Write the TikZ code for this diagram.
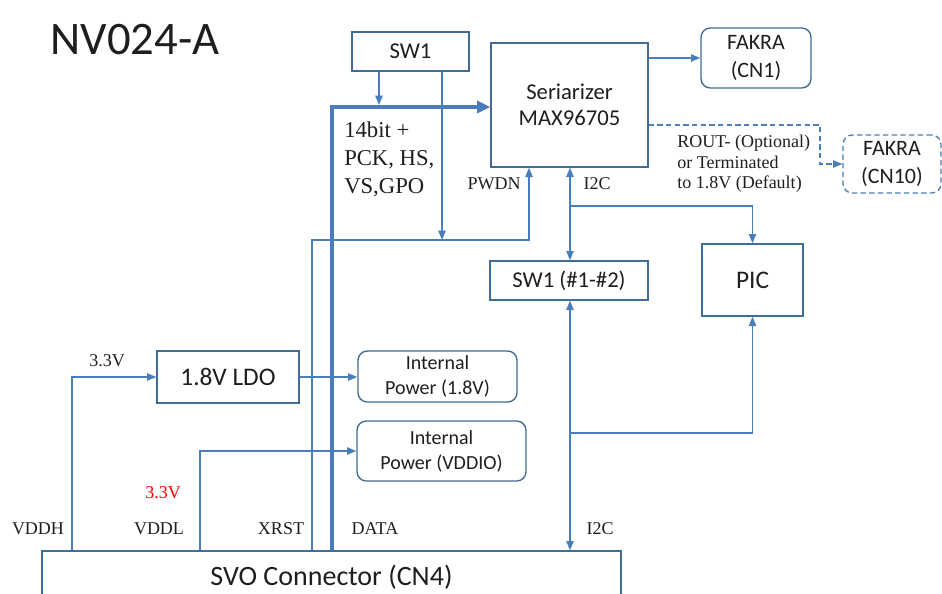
\documentclass[tikz,border=0pt]{standalone}
\usepackage{fontspec}
\setmainfont{Liberation Serif}
\newfontfamily\boxfont{Carlito}
\usetikzlibrary{arrows.meta}
\definecolor{linkblue}{RGB}{74,126,187}
\definecolor{boxblue}{RGB}{65,108,150}
\definecolor{txtgrey}{RGB}{30,30,30}
\begin{document}
\begin{tikzpicture}[x=0.75pt,y=-0.75pt,>={Triangle[length=7pt,width=5.5pt]},
    box/.style={draw=boxblue,line width=1pt,inner sep=0pt,align=center,text=txtgrey},
    rbox/.style={box,rounded corners=7pt},
    link/.style={draw=linkblue,line width=1.1pt},
    bus/.style={draw=linkblue,line width=3.2pt,-{Triangle[length=10pt,width=9pt]}},
    dashlink/.style={link,dash pattern=on 4pt off 2.5pt},
    lbl/.style={font=\fontsize{13.5}{16}\selectfont,inner sep=0pt,text=txtgrey}]
\clip (0,0) rectangle (942,593);
% title
\node[font=\boxfont\fontsize{35}{40}\selectfont,text=txtgrey] (title) at (135,40) {NV024-A};
% blocks
\node[box,font=\boxfont\fontsize{17}{20}\selectfont,minimum width=87.75pt,minimum height=29.25pt] (sw) at (410.5,51.5) {SW1};
\node[box,font=\boxfont\fontsize{17}{19.5}\selectfont,minimum width=117.75pt,minimum height=93pt] (ser) at (569.5,105) {Seriarizer\\MAX96705};
\node[rbox,font=\boxfont\fontsize{16.5}{21}\selectfont,minimum width=82.5pt,minimum height=45pt] (cn1) at (756,58) {FAKRA\\(CN1)};
\node[rbox,draw=linkblue,dash pattern=on 4pt off 2.5pt,font=\boxfont\fontsize{16.5}{21}\selectfont,minimum width=73.5pt,minimum height=43.5pt] (cn10) at (892,164) {FAKRA\\(CN10)};
\node[box,font=\boxfont\fontsize{17}{20}\selectfont,minimum width=118.5pt,minimum height=29.25pt] (swb) at (569,280.5) {SW1 (\#1-\#2)};
\node[box,font=\boxfont\fontsize{19}{22}\selectfont,minimum width=75.75pt,minimum height=54pt] (pic) at (752.5,280) {PIC};
\node[box,font=\boxfont\fontsize{19}{22}\selectfont,minimum width=106.5pt,minimum height=39pt] (ldo) at (228,377) {1.8V LDO};
\node[rbox,font=\boxfont\fontsize{15}{18.75}\selectfont,minimum width=119.25pt,minimum height=38.25pt] (ip18) at (437.5,376.5) {Internal\\Power (1.8V)};
\node[rbox,font=\boxfont\fontsize{15}{18.75}\selectfont,minimum width=126.75pt,minimum height=45pt] (ipio) at (441.5,451) {Internal\\Power (VDDIO)};
\node[box,font=\boxfont\fontsize{21}{24}\selectfont,minimum width=434.25pt,minimum height=39pt] (svo) at (331.5,577) {SVO Connector (CN4)};
% junctions
\coordinate (dcorner) at (332,107);
\coordinate (swtap) at (379,105);
\coordinate (pwjoin) at (442,240);
\coordinate (xrst) at (312,240);
\coordinate (pwdn) at (529,240);
\coordinate (i2ctop) at (570,206);
\coordinate (i2cbot) at (570,433);
\coordinate (vddh) at (72,377);
\coordinate (vddl) at (200,451);
\coordinate (rout) at (820,125);
% connectors
\draw[bus] (svo.north -| dcorner) -- (dcorner) -- (ser.west |- dcorner);
\draw[link,->] (sw.south -| swtap) -- (swtap);
\draw[link,->] (sw.south -| pwjoin) -- (pwjoin);
\draw[link,->] (svo.north -| xrst) -- (xrst) -- (pwdn) -- (ser.south -| pwdn);
\draw[link,<->] (ser.south -| i2ctop) -- (swb.north -| i2ctop);
\draw[link,->] (i2ctop) -| (pic.north);
\draw[link,<->] (swb.south -| i2cbot) -- (svo.north -| i2cbot);
\draw[link,->] (i2cbot) -| (pic.south);
\draw[link,->] (svo.north -| vddh) -- (vddh) -- (ldo.west);
\draw[link,->] (ldo.east) -- (ldo.east -| ip18.west);
\draw[link,->] (svo.north -| vddl) -- (vddl) -- (ipio.west);
\draw[link,->] (ser.east |- cn1.west) -- (cn1.west);
\draw[dashlink,->] (ser.east |- rout) -- (rout) |- (cn10.west);
% labels
\node[anchor=north west,align=left,inner sep=0pt,text=txtgrey,font=\fontsize{17}{21}\selectfont] (bits) at (344,122) {14bit +\\PCK, HS,\\VS,GPO};
\node[lbl] (lpwdn) at (494,184) {PWDN};
\node[lbl] (li2ct) at (597,184) {I2C};
\node[lbl,anchor=north west,align=left,font=\fontsize{13.5}{15.4}\selectfont] (lrout) at (677,135) {ROUT- (Optional)\\or Terminated\\to 1.8V (Default)};
\node[lbl] (l33a) at (107,361) {3.3V};
\node[lbl,text=red] (l33b) at (163,493) {3.3V};
\node[lbl] (lvddh) at (38,529) {VDDH};
\node[lbl] (lvddl) at (159,529) {VDDL};
\node[lbl] (lxrst) at (281,529) {XRST};
\node[lbl] (ldata) at (375,529) {DATA};
\node[lbl] (li2cb) at (600,529) {I2C};
\end{tikzpicture}
\end{document}
